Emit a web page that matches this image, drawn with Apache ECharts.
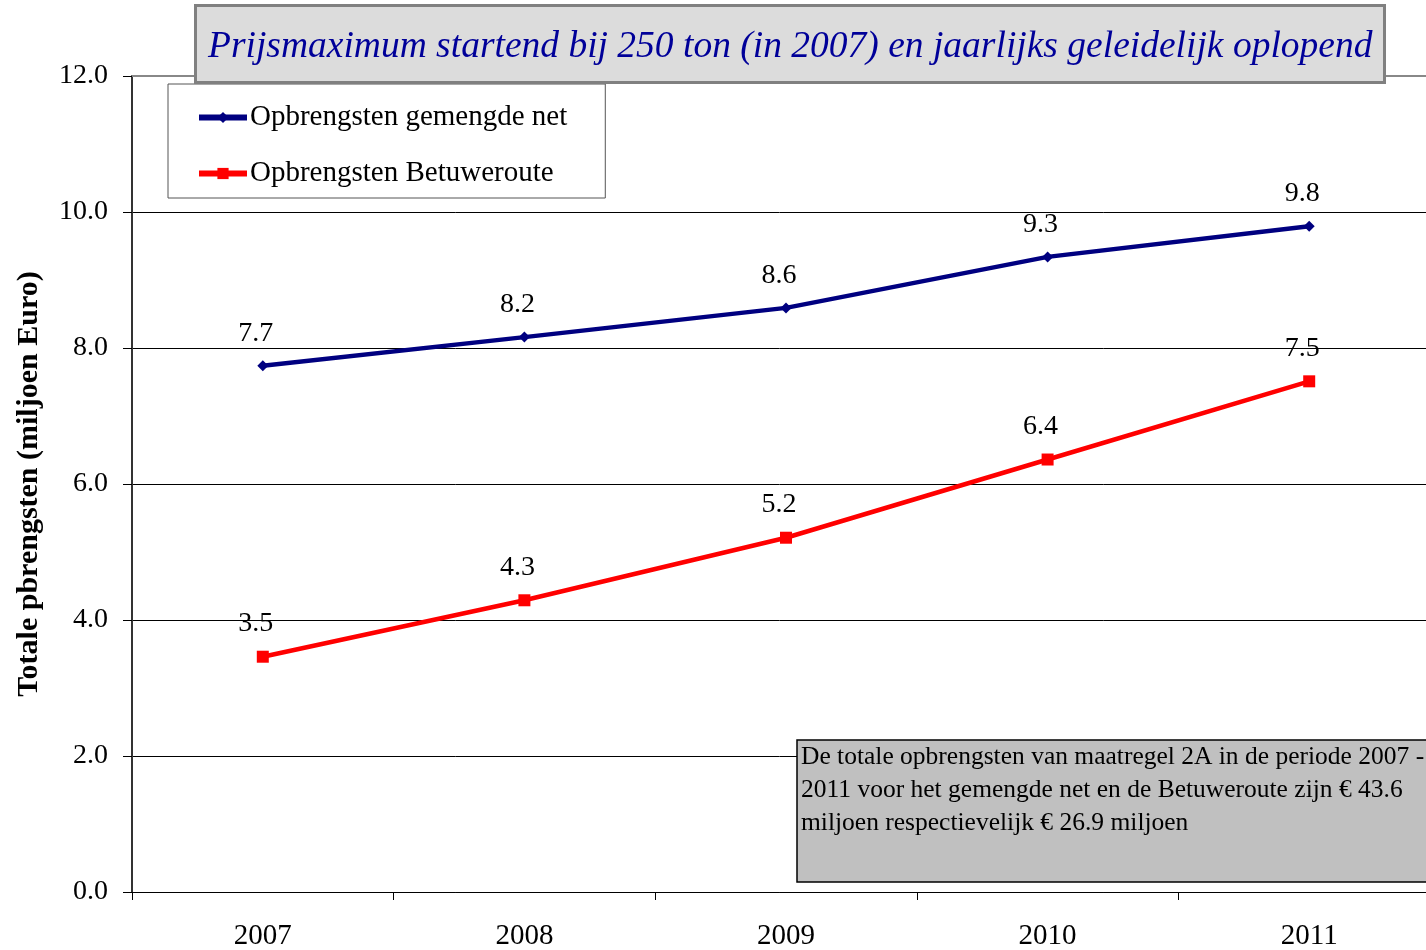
<!DOCTYPE html>
<html>
<head>
<meta charset="utf-8"/>
<script src="https://cdn.jsdelivr.net/npm/echarts@6.0.0/dist/echarts.min.js"></script>
<style>
  html, body { margin: 0; padding: 0; background: #fff; }
</style>
</head>
<body>
<div id="main" style="width: 1426px;height: 950px;"></div>
<script>
var years = ['2007', '2008', '2009', '2010', '2011'];
var gemengdNet = [7.74, 8.16, 8.59, 9.34, 9.79];
var betuweroute = [3.46, 4.29, 5.21, 6.36, 7.51];
var yTicks = [0, 2, 4, 6, 8, 10, 12];

var serif = '"Liberation Serif", "DejaVu Serif", serif';
var chart = echarts.init(document.getElementById('main'));

var labelStyle = {
  show: true,
  position: 'top',
  distance: 13,
  offset: [-7, 0],
  fontFamily: serif,
  fontSize: 28,
  color: '#000',
  formatter: function (p) { return p.value.toFixed(1); }
};

chart.setOption({
  animation: false,
  textStyle: { fontFamily: serif },
  title: {
    text: 'Prijsmaximum startend bij 250 ton (in 2007) en jaarlijks geleidelijk oplopend',
    left: 195,
    top: 5,
    padding: [23, 12, 17, 13],
    backgroundColor: '#dcdcdc',
    borderColor: '#808080',
    borderWidth: 3,
    textStyle: {
      fontFamily: serif,
      fontStyle: 'italic',
      fontWeight: 'normal',
      fontSize: 37.5,
      color: '#000099'
    }
  },
  legend: {
    orient: 'vertical',
    left: 168,
    top: 84,
    padding: [19, 38, 10, 28],
    itemGap: 27,
    itemWidth: 48,
    itemHeight: 14,
    backgroundColor: '#fff',
    borderColor: '#555',
    borderWidth: 1,
    lineStyle: { width: 6 },
    textStyle: { fontFamily: serif, fontSize: 29, color: '#000', padding: [0, 0, 0, -2] },
    data: ['Opbrengsten gemengde net', 'Opbrengsten Betuweroute']
  },
  grid: { left: 132, right: -14, top: 76, bottom: 58, outerBoundsMode: 'none' },
  xAxis: {
    type: 'category',
    data: years,
    boundaryGap: true,
    axisLine: { lineStyle: { color: '#000', width: 1 } },
    axisTick: { show: true, length: 8, lineStyle: { color: '#000' } },
    axisLabel: { fontFamily: serif, fontSize: 29, color: '#000', margin: 30 },
    splitLine: { show: false }
  },
  yAxis: {
    type: 'value',
    min: yTicks[0],
    max: yTicks[yTicks.length - 1],
    interval: 2,
    name: 'Totale pbrengsten (miljoen Euro)',
    nameLocation: 'middle',
    nameGap: 88,
    nameTextStyle: { fontFamily: serif, fontSize: 30, fontWeight: 'bold', color: '#000' },
    axisLine: { show: true, lineStyle: { color: '#333', width: 2 } },
    axisTick: { show: true, length: 9, lineStyle: { color: '#000' } },
    axisLabel: {
      fontFamily: serif, fontSize: 28, color: '#000', margin: 24,
      formatter: function (v) { return v.toFixed(1); }
    },
    splitLine: {
      show: true,
      lineStyle: { color: '#000', width: 1 }
    }
  },
  graphic: [
    {
      type: 'line',
      shape: { x1: 132, y1: 76, x2: 1426, y2: 76 },
      style: { stroke: '#888', lineWidth: 2 },
      z: 5
    },
    {
      type: 'rect',
      shape: { x: 797, y: 740, width: 640, height: 142 },
      style: { fill: '#c0c0c0', stroke: '#000', lineWidth: 1.5 },
      z: 20
    },
    {
      type: 'text',
      left: 801,
      top: 741,
      z: 21,
      style: {
        text: 'De totale opbrengsten van maatregel 2A in de periode 2007 -\n2011 voor het gemengde net en de Betuweroute zijn € 43.6\nmiljoen respectievelijk € 26.9 miljoen',
        font: '25.5px "Liberation Serif", serif',
        fill: '#000',
        lineHeight: 33
      }
    }
  ],
  series: [
    {
      name: 'Opbrengsten gemengde net',
      type: 'line',
      data: gemengdNet,
      symbol: 'diamond',
      symbolSize: 11,
      lineStyle: { color: '#000080', width: 4.5 },
      itemStyle: { color: '#000080' },
      label: labelStyle,
      z: 10
    },
    {
      name: 'Opbrengsten Betuweroute',
      type: 'line',
      data: betuweroute,
      symbol: 'rect',
      symbolSize: 12,
      lineStyle: { color: '#ff0000', width: 4.5 },
      itemStyle: { color: '#ff0000' },
      label: labelStyle,
      z: 10
    }
  ]
});
</script>
</body>
</html>
